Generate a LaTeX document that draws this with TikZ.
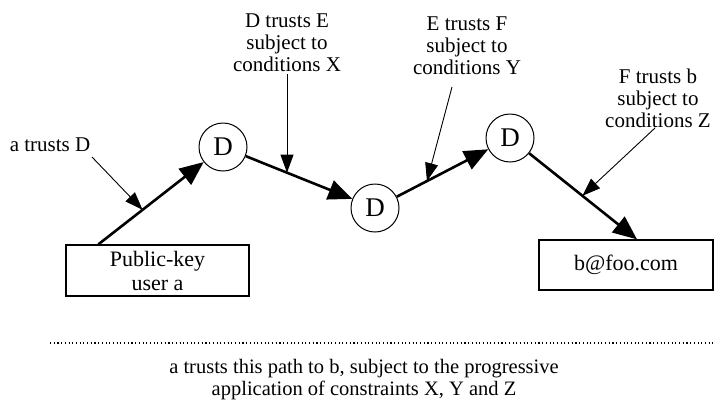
\documentclass[tikz,border=0pt]{standalone}
\usepackage{fontspec}
\setmainfont{Liberation Serif}
\usetikzlibrary{arrows.meta,calc}
\begin{document}
\begin{tikzpicture}[x=1pt,y=-1pt,
  lbl/.style={align=center,font=\fontsize{21}{22}\selectfont,inner sep=2pt},
  dnode/.style={circle,draw,line width=1pt,minimum size=48pt,inner sep=0pt,font=\fontsize{27}{27}\selectfont},
  boxnode/.style={draw,line width=1.3pt,inner sep=0pt,align=center,font=\fontsize{22}{24}\selectfont},
  bigarrow/.style={line width=2.6pt,-{Triangle[length=24pt,width=20pt]}},
  smallarrow/.style={line width=0.9pt,-{Triangle[length=18pt,width=13pt]}},
  dotline/.style={line width=1.1pt,dash pattern=on 1.1pt off 2.6pt}]
\useasboundingbox (0,0) rectangle (714,402);
% boxes
\node[boxnode,minimum width=183pt,minimum height=51pt] (a) at (157.5,270.5) {Public-key\\user a};
\node[boxnode,minimum width=174pt,minimum height=50pt] (b) at (626,265) {b@foo.com};
% circles
\node[dnode] (D1) at (223,147) {D};
\node[dnode] (D2) at (375,208) {D};
\node[dnode] (D3) at (510,138) {D};
% connection points
\coordinate (astart) at ($(a.north west)+(33,0)$);
\coordinate (btip) at ($(b.north)+(11,0)$);
\draw[bigarrow] (astart) -- (D1);
\draw[bigarrow] (D1) -- (D2);
\draw[bigarrow] (D2) -- (D3);
\draw[bigarrow] (D3) -- (btip);
% labels
\node[lbl] (lD) at (50,145) {a trusts D};
\node[lbl] (lX) at (287,43) {D trusts E\\subject to\\conditions X};
\node[lbl] (lY) at (467,46) {E trusts F\\subject to\\conditions Y};
\node[lbl] (lZ) at (658,98) {F trusts b\\subject to\\conditions Z};
% label arrows
\coordinate (sD) at (92,157);
\coordinate (pD) at ($(astart)!0.355!(D1)$);
\draw[smallarrow] (sD) -- (pD);
\coordinate (pX) at ($(D1)!0.42!(D2)$);
\draw[smallarrow] (lX.south) -- (lX.south |- pX);
\coordinate (sY) at (452,87);
\coordinate (pY) at ($(D2)!0.385!(D3)$);
\draw[smallarrow] (sY) -- (pY);
\coordinate (sZ) at (655,128);
\coordinate (pZ) at ($(D3)!0.57!(btip)$);
\draw[smallarrow] (sZ) -- (pZ);
% dotted separator
\coordinate (dl) at (50,343);
\coordinate (dr) at (714,343);
\draw[dotline] (dl) -- (dr);
% bottom caption
\node[lbl,font=\fontsize{20.5}{22}\selectfont] (cap) at (364,380) {a trusts this path to b, subject to the progressive\\application of constraints X, Y and Z};
\end{tikzpicture}
\end{document}
